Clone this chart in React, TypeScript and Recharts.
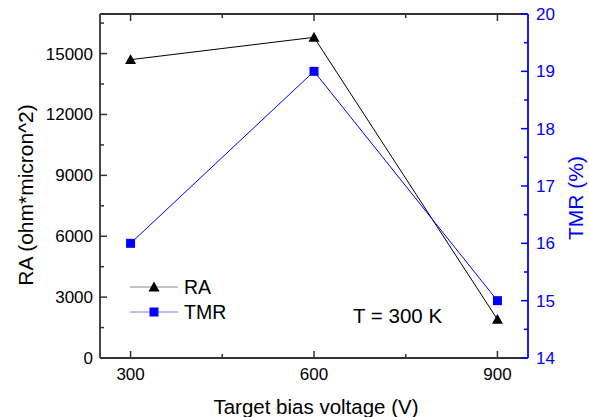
import React from 'react';
import { ComposedChart, Line, XAxis, YAxis, Customized } from 'recharts';

const voltages = [300, 600, 900];
const raValues = [14700, 15800, 1900];
const tmrValues = [16, 19, 15];

const xTicks = [300, 450, 600, 750, 900];
const xMajor = [300, 600, 900];
const raTicks = [0, 1500, 3000, 4500, 6000, 7500, 9000, 10500, 12000, 13500, 15000, 16500];
const raMajor = [0, 3000, 6000, 9000, 12000, 15000];
const tmrTicks = [14, 14.5, 15, 15.5, 16, 16.5, 17, 17.5, 18, 18.5, 19, 19.5, 20];
const tmrMajor = [14, 15, 16, 17, 18, 19, 20];

const data = voltages.map((v, i) => ({ v, ra: raValues[i], tmr: tmrValues[i] }));

const FONT = '"Liberation Sans", Arial, sans-serif';
const AXIS = '#333333';
const BLUE = '#0000ff';

const makeTick = (orient: string, majors: number[], color: string, showLabel: boolean) => (props: any) => {
  const { x, y, payload } = props;
  const v = payload.value;
  const major = majors.includes(v);
  const len = major ? 7 : 4;
  let line: any = null;
  let text: any = null;
  if (orient === 'bottom') {
    line = <line x1={x} y1={y} x2={x} y2={y - len} stroke={color} strokeWidth={1.5} />;
    if (showLabel && major) text = <text x={x} y={y + 22} textAnchor="middle" fontSize={17} fontFamily={FONT} fill={color === AXIS ? '#000' : color}>{v}</text>;
  } else if (orient === 'top') {
    line = <line x1={x} y1={y} x2={x} y2={y + len} stroke={color} strokeWidth={1.5} />;
  } else if (orient === 'left') {
    line = <line x1={x} y1={y} x2={x + len} y2={y} stroke={color} strokeWidth={1.5} />;
    if (showLabel && major) text = <text x={x - 7} y={y + 6} textAnchor="end" fontSize={17} fontFamily={FONT} fill="#000">{v}</text>;
  } else {
    line = <line x1={x} y1={y} x2={x - len} y2={y} stroke={color} strokeWidth={1.5} />;
    if (showLabel && major) text = <text x={x + 8} y={y + 6} textAnchor="start" fontSize={17} fontFamily={FONT} fill={color}>{v}</text>;
  }
  return (
    <g>
      {line}
      {text}
    </g>
  );
};

const Triangle = (props: any) => {
  const { cx, cy } = props;
  if (cx == null || cy == null) return <g />;
  const s = 5.5;
  return <polygon points={`${cx},${cy - s} ${cx - s},${cy + s * 0.8} ${cx + s},${cy + s * 0.8}`} fill="#000" />;
};

const Square = (props: any) => {
  const { cx, cy } = props;
  if (cx == null || cy == null) return <g />;
  const s = 4.5;
  return <rect x={cx - s} y={cy - s} width={2 * s} height={2 * s} fill={BLUE} />;
};

const Overlay = () => (
  <g fontFamily={FONT}>
    <text x={316} y={414} textAnchor="middle" fontSize={20.5} fill="#000">Target bias voltage (V)</text>
    <text x={33} y={195} textAnchor="middle" fontSize={21} fill="#000" transform="rotate(-90 33 195)">RA (ohm*micron^2)</text>
    <text x={583} y={198} textAnchor="middle" fontSize={21} fill={BLUE} transform="rotate(-90 583 198)">TMR (%)</text>
    <text x={353} y={323} fontSize={20.5} fill="#000">T = 300 K</text>
    <line x1={130} y1={287} x2={178} y2={287} stroke="#888" strokeWidth={1} />
    <polygon points="154,281.5 148.5,291.4 159.5,291.4" fill="#000" />
    <text x={184} y={294} fontSize={19.5} fill="#000">RA</text>
    <line x1={130} y1={312} x2={178} y2={312} stroke="#8080ff" strokeWidth={1} />
    <rect x={149.5} y={307.5} width={9} height={9} fill={BLUE} />
    <text x={184} y={319} fontSize={19.5} fill="#000">TMR</text>
  </g>
);

export default function App() {
  return (
    <div style={{ position: 'absolute', left: 0, top: 0, width: 589, height: 417, background: '#fff' }}>
      <ComposedChart width={589} height={417} data={data} margin={{ top: 13, right: 0, bottom: 0, left: 0 }}>
        <XAxis
          dataKey="v"
          type="number"
          domain={[250, 950]}
          ticks={xTicks}
          interval={0}
          height={59}
          stroke={AXIS}
          tickSize={0}
          tickMargin={0}
          tickLine={false}
          axisLine={{ stroke: AXIS, strokeWidth: 1.8 }}
          tick={makeTick('bottom', xMajor, AXIS, true)}
        />
        <XAxis
          xAxisId="top"
          orientation="top"
          dataKey="v"
          type="number"
          domain={[250, 950]}
          ticks={xTicks}
          interval={0}
          height={1}
          stroke={AXIS}
          tickSize={0}
          tickMargin={0}
          tickLine={false}
          axisLine={{ stroke: AXIS, strokeWidth: 1.8 }}
          tick={makeTick('top', xMajor, AXIS, false)}
        />
        <YAxis
          yAxisId="left"
          type="number"
          domain={[0, 16950]}
          ticks={raTicks}
          interval={0}
          width={100}
          stroke={AXIS}
          tickSize={0}
          tickMargin={0}
          tickLine={false}
          axisLine={{ stroke: AXIS, strokeWidth: 1.8 }}
          tick={makeTick('left', raMajor, AXIS, true)}
        />
        <YAxis
          yAxisId="right"
          orientation="right"
          type="number"
          domain={[14, 20]}
          ticks={tmrTicks}
          interval={0}
          width={61}
          stroke={BLUE}
          tickSize={0}
          tickMargin={0}
          tickLine={false}
          axisLine={{ stroke: BLUE, strokeWidth: 1.8 }}
          tick={makeTick('right', tmrMajor, BLUE, true)}
        />
        <Line
          yAxisId="left"
          dataKey="ra"
          stroke="#000"
          strokeWidth={1}
          dot={<Triangle />}
          activeDot={false}
          isAnimationActive={false}
        />
        <Line
          yAxisId="right"
          dataKey="tmr"
          stroke={BLUE}
          strokeWidth={1}
          dot={<Square />}
          activeDot={false}
          isAnimationActive={false}
        />
        <Customized component={Overlay} />
      </ComposedChart>
    </div>
  );
}
